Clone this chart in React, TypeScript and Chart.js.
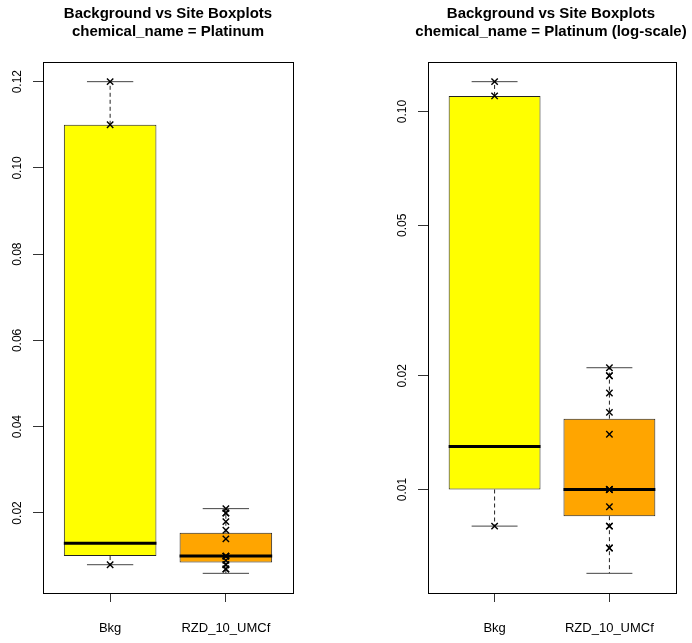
import React, { useEffect, useRef } from 'react';
import { Chart, registerables } from 'chart.js';

Chart.register(...registerables);

const FONT = '"Liberation Sans", Arial, Helvetica, sans-serif';

// ---- data ----
const categories = ['Bkg', 'RZD_10_UMCf'];
const boxColors = ['#FFFF00', '#FFA500'];
const whiskerLow = [0.008, 0.006];
const boxLow = [0.01, 0.0085];
const medians = [0.013, 0.01];
const boxHigh = [0.11, 0.0154];
const whiskerHigh = [0.12, 0.021];
const bkgPoints = [0.12, 0.11, 0.008];
const sitePoints = [0.021, 0.02, 0.02, 0.018, 0.016, 0.014, 0.01, 0.01, 0.01, 0.009, 0.008, 0.008, 0.007, 0.007];
const linearTicks = [0.02, 0.04, 0.06, 0.08, 0.1, 0.12];
const linearTickLabels = ['0.02', '0.04', '0.06', '0.08', '0.10', '0.12'];
const logTicks = [0.01, 0.02, 0.05, 0.1];
const logTickLabels = ['0.01', '0.02', '0.05', '0.10'];
const titleLine1 = 'Background vs Site Boxplots';
const titleLeftLine2 = 'chemical_name = Platinum';
const titleRightLine2 = 'chemical_name = Platinum (log-scale)';

const boxPlugin = {
  id: 'boxWhiskers',
  afterDatasetDraw(chart: any, args: any) {
    if (args.index !== 0) return;
    const ys = chart.scales.y;
    const ctx = chart.ctx;
    const meta = chart.getDatasetMeta(0);
    meta.data.forEach((bar: any, i: number) => {
      const x = bar.x;
      const w = bar.width;
      const pHi = ys.getPixelForValue(whiskerHigh[i]);
      const pLo = ys.getPixelForValue(whiskerLow[i]);
      const pQ3 = ys.getPixelForValue(boxHigh[i]);
      const pQ1 = ys.getPixelForValue(boxLow[i]);
      const pMed = ys.getPixelForValue(medians[i]);
      ctx.save();
      // dashed whiskers
      ctx.strokeStyle = '#222';
      ctx.lineWidth = 1;
      ctx.setLineDash([4, 3]);
      ctx.beginPath();
      ctx.moveTo(x, pQ3);
      ctx.lineTo(x, pHi);
      ctx.moveTo(x, pQ1);
      ctx.lineTo(x, pLo);
      ctx.stroke();
      // staples
      ctx.setLineDash([]);
      ctx.strokeStyle = '#444';
      ctx.beginPath();
      ctx.moveTo(x - w / 4, pHi);
      ctx.lineTo(x + w / 4, pHi);
      ctx.moveTo(x - w / 4, pLo);
      ctx.lineTo(x + w / 4, pLo);
      ctx.stroke();
      // median
      ctx.strokeStyle = '#000';
      ctx.lineWidth = 3;
      ctx.beginPath();
      ctx.moveTo(x - w / 2, pMed);
      ctx.lineTo(x + w / 2, pMed);
      ctx.stroke();
      ctx.restore();
    });
  },
};

const framePlugin = {
  id: 'frame',
  afterLayout(chart: any) {
    // let the rotated y tick labels draw outside the narrow axis box
    if (chart.scales.y) chart.scales.y.left = 0;
  },
  afterDraw(chart: any) {
    const { left, right, top, bottom } = chart.chartArea;
    const ctx = chart.ctx;
    ctx.save();
    ctx.strokeStyle = '#000';
    ctx.lineWidth = 1;
    ctx.strokeRect(Math.round(left) + 0.5, Math.round(top) + 0.5, Math.round(right - left), Math.round(bottom - top));
    ctx.restore();
  },
};

function buildConfig(isLog: boolean, line2: string, padLeft: number, padRight: number, yW: number, y2W: number): any {
  const lo = Math.min(...whiskerLow);
  const hi = Math.max(...whiskerHigh);
  let yMin: number, yMax: number;
  if (isLog) {
    const a = Math.log10(lo);
    const b = Math.log10(hi);
    const p = (b - a) * 0.04;
    yMin = Math.pow(10, a - p);
    yMax = Math.pow(10, b + p);
  } else {
    const p = (hi - lo) * 0.04;
    yMin = lo - p;
    yMax = hi + p;
  }
  const tickVals = isLog ? logTicks : linearTicks;
  const tickLabels = isLog ? logTickLabels : linearTickLabels;
  const n = categories.length;
  const xPad = n * 0.04;

  return {
    type: 'bar',
    data: {
      datasets: [
        {
          type: 'bar',
          order: 1,
          yAxisID: 'y',
          xAxisID: 'x',
          data: categories.map((_, i) => ({ x: i + 1, y: [boxLow[i], boxHigh[i]] })),
          backgroundColor: boxColors,
          borderColor: '#222',
          borderWidth: 1,
          borderSkipped: false,
          categoryPercentage: 1,
          barPercentage: 0.8,
        },
        {
          type: 'scatter',
          order: 0,
          yAxisID: 'y',
          xAxisID: 'x',
          data: [
            ...bkgPoints.map((v) => ({ x: 1, y: v })),
            ...sitePoints.map((v) => ({ x: 2, y: v })),
          ],
          pointStyle: 'crossRot',
          pointRadius: 4.5,
          borderColor: '#000',
          backgroundColor: '#000',
          borderWidth: 1.4,
          showLine: false,
        },
      ],
    },
    options: {
      animation: false,
      responsive: false,
      devicePixelRatio: 1,
      events: [],
      layout: { padding: { left: padLeft, right: padRight, top: 0, bottom: 0 } },
      plugins: {
        legend: { display: false },
        tooltip: { enabled: false },
        title: {
          display: true,
          text: [titleLine1, line2],
          color: '#000',
          font: { family: FONT, size: 15, weight: 'bold', lineHeight: 1.16 },
          padding: { top: 5.4, bottom: 21.8 },
          fullSize: true,
          align: 'center',
        },
      },
      scales: {
        x: {
          type: 'linear',
          position: 'bottom',
          min: 0.5 - xPad,
          max: n + 0.5 + xPad,
          offset: false,
          bounds: 'data',
          afterBuildTicks: (s: any) => {
            s.ticks = categories.map((_, i) => ({ value: i + 1 }));
          },
          afterFit: (s: any) => {
            s.height = 50;
          },
          ticks: {
            callback: (_v: any, i: number) => categories[i],
            autoSkip: false,
            maxRotation: 0,
            minRotation: 0,
            padding: 19,
            color: '#000',
            font: { family: FONT, size: 13 },
          },
          grid: { display: true, drawOnChartArea: false, drawTicks: true, tickLength: 9, tickColor: '#333', offset: false },
          border: { display: false },
        },
        y: {
          type: isLog ? 'logarithmic' : 'linear',
          position: 'left',
          min: yMin,
          max: yMax,
          bounds: 'data',
          beginAtZero: false,
          afterBuildTicks: (s: any) => {
            s.ticks = tickVals.map((v) => ({ value: v }));
          },
          afterFit: (s: any) => {
            s.width = yW;
          },
          ticks: {
            callback: (_v: any, i: number) => tickLabels[i],
            autoSkip: false,
            minRotation: 90,
            maxRotation: 90,
            crossAlign: 'center',
            padding: 3.5,
            color: '#000',
            font: { family: FONT, size: 12 },
          },
          grid: { display: true, drawOnChartArea: false, drawTicks: true, tickLength: 10, tickColor: '#333' },
          border: { display: false },
        },
        y2: {
          type: 'linear',
          position: 'right',
          display: true,
          grid: { display: false },
          ticks: { display: false },
          border: { display: false },
          afterFit: (s: any) => {
            s.width = y2W;
          },
        },
      },
    },
    plugins: [boxPlugin, framePlugin],
  };
}

export default function App() {
  const leftRef = useRef<HTMLCanvasElement>(null);
  const rightRef = useRef<HTMLCanvasElement>(null);

  useEffect(() => {
    Chart.defaults.font.family = FONT;
    const left = new Chart(leftRef.current as HTMLCanvasElement, buildConfig(false, titleLeftLine2, 0, 10, 43, 43));
    const right = new Chart(rightRef.current as HTMLCanvasElement, buildConfig(true, titleRightLine2, 64, 0, 18, 16));
    return () => {
      left.destroy();
      right.destroy();
    };
  }, []);

  return (
    <div style={{ position: 'absolute', left: 0, top: 0, width: 692, height: 643, display: 'flex', background: '#fff' }}>
      <canvas ref={leftRef} width={346} height={643} style={{ display: 'block', width: 346, height: 643 }} />
      <canvas ref={rightRef} width={346} height={643} style={{ display: 'block', width: 346, height: 643 }} />
    </div>
  );
}
